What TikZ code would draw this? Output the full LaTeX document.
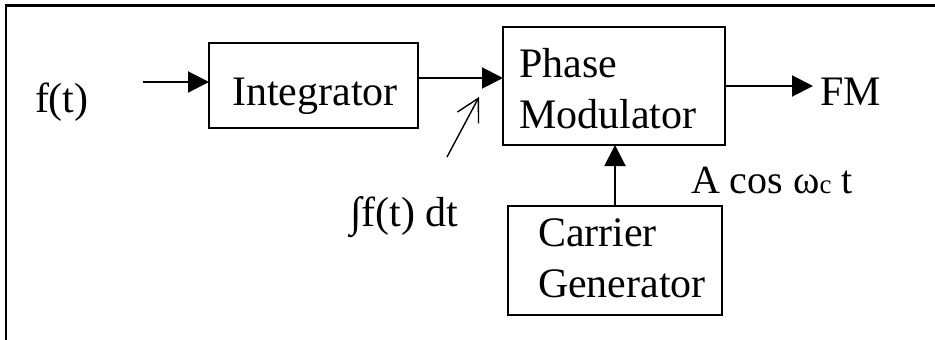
\documentclass[tikz,border=0pt]{standalone}
\usepackage{fontspec}
\setmainfont{Liberation Serif}
\usetikzlibrary{arrows.meta}

\begin{document}
\begin{tikzpicture}[x=1pt,y=-1pt,
  every node/.style={inner sep=0pt, outer sep=0pt},
  lbl/.style={font=\fontsize{42}{51}\selectfont, align=left},
  blockbox/.style={draw, line width=2pt, rectangle},
  sig/.style={line width=2pt, -{Triangle[length=21pt,width=21pt]}},
  pointer/.style={line width=1.4pt, -{Straight Barb[length=22pt,width=24pt,line width=1.4pt]}}
]
\useasboundingbox (0,0) rectangle (935,340);

% outer frame (top and left edges)
\draw[line width=2.5pt] (6,340) -- (6,5.5) -- (935,5.5);

% blocks
\node[blockbox, minimum width=209pt, minimum height=85pt] (integ) at (313.5,85.5) {};
\node[blockbox, minimum width=222pt, minimum height=118pt] (phase) at (614,86) {};
\node[blockbox, minimum width=214pt, minimum height=109pt] (carrier) at (615,260.5) {};

% block texts (base anchor sits on the last line)
\node[lbl, anchor=base] (integtxt) at (315,105) {Integrator};
\node[lbl, anchor=base west] (phasetxt) at (519,128) {Phase\\Modulator};
\node[lbl, anchor=base west] (carriertxt) at (538,297) {Carrier\\Generator};

% signal labels
\node[lbl, anchor=base west] (fin) at (35,112) {f(t)};
\node[lbl, anchor=base west] (fm) at (820,105) {FM};
\node[font=\fontsize{40}{48}\selectfont, anchor=base west] (carr) at (691,193)
  {A cos ω{\fontsize{27}{30}\selectfont c} t};
\node[lbl, anchor=base west] (integral) at (350,226) {∫f(t) dt};

% connectors
\coordinate (src) at (143,82);
\draw[sig] (src) -- (src -| integ.west);
\draw[sig] ([yshift=7.5pt]integ.east) -- ([yshift=7.5pt]integ.east -| phase.west);
\draw[sig, shorten >=7pt] (phase.east) -- (phase.east -| fm.west);
\draw[sig] (carrier.north) -- (carrier.north |- phase.south);

% pointer from the integral label to the integrator output line
\coordinate (ptrtail) at (447,157);
\coordinate (ptrhead) at (479,97);
\draw[pointer] (ptrtail) -- (ptrhead);
\end{tikzpicture}
\end{document}
